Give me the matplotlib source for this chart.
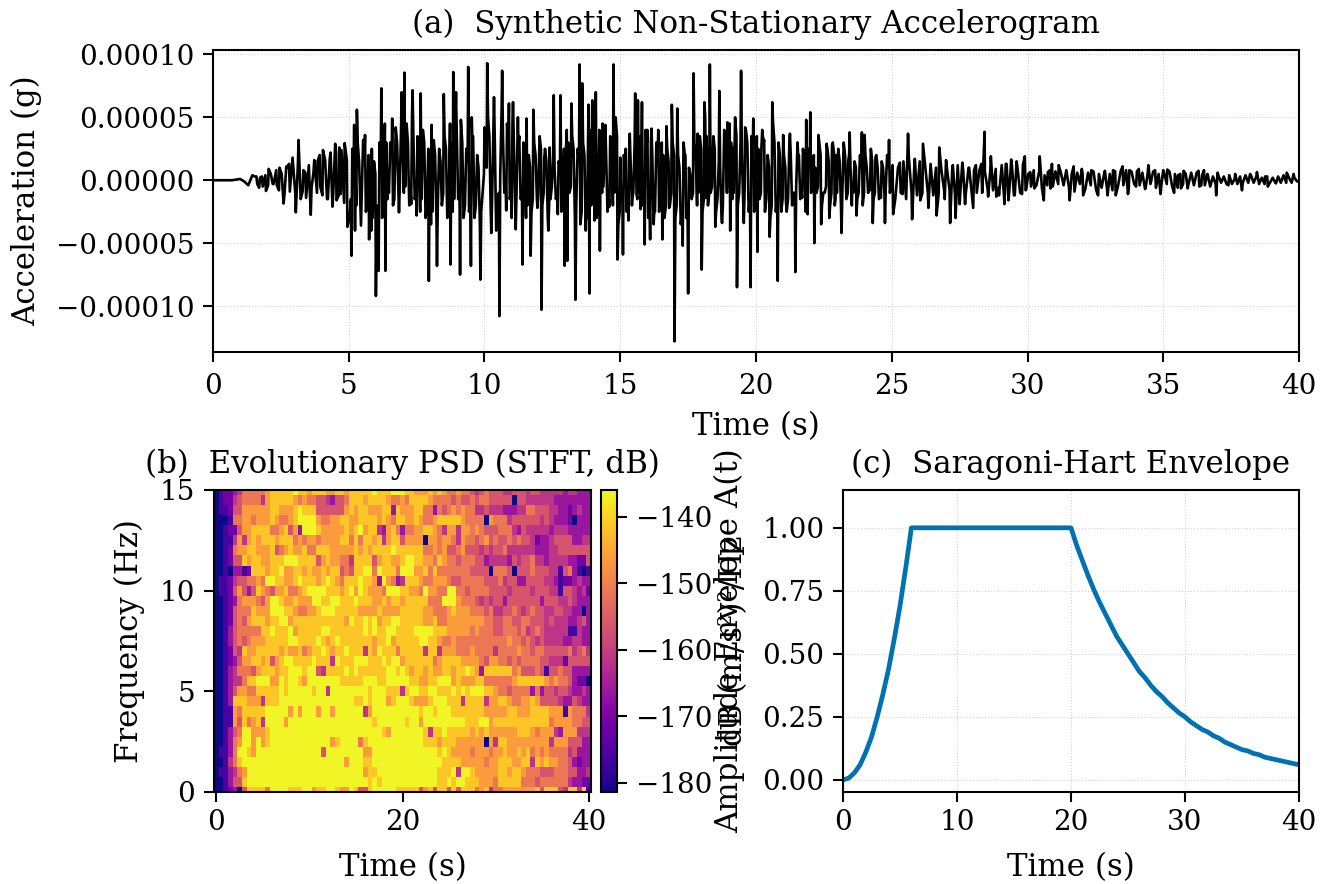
import numpy as np
import matplotlib
matplotlib.use("Agg")
import matplotlib.pyplot as plt

W, H = 1329, 884

# (a) accelerogram: seconds, units of 1e-5 g
acc_time = [0,0.7,0.85,1.0,1.15,1.3,1.45,1.6,1.7,1.8,1.95,2.05,2.2,2.35,2.45,2.6,2.7,2.8,3.05,3.15,3.3,3.4,3.6,3.7,3.85,3.95,4.05,4.2,4.3,4.4,4.5,4.55,4.65,4.7,4.85,4.95,5.1,5.2,5.25,5.3,5.45,5.6,5.75,5.85,6.0,6.1,6.2,6.35,6.45,6.6,6.85,6.95,7.05,7.2,7.3,
7.35,7.5,7.65,7.95,8.05,8.25,8.5,8.75,8.85,8.95,9.1,9.2,9.4,9.5,9.55,9.85,10.0,10.1,10.25,10.35,10.55,10.65,10.8,10.9,11.0,11.05,11.15,11.25,11.4,11.55,11.7,11.8,11.95,12.1,12.2,12.35,12.4,12.55,12.7,12.8,12.95,13.05,13.2,13.35,13.5,13.6,13.75,13.87,13.97,14.05,14.1,14.25,14.35,14.45,14.6,14.75,14.9,15.0,15.1,15.2,15.3,15.35,15.45,15.55,15.6,15.65,15.75,15.8,15.9,16.0,16.1,16.15,16.25,16.4,16.55,16.7,16.8,16.9,17.0,17.1,17.3,17.4,17.5,17.7,17.85,18.0,18.1,18.15,18.3,18.5,18.65,18.75,18.95,19.05,19.15,19.3,19.45,19.55,19.6,19.8,19.9,20.05,20.2,20.3,20.5,20.6,20.8,21.0,21.1,21.25,21.45,21.55,21.7,21.85,21.9,22.0,22.15,22.3,22.4,22.6,22.7,22.8,22.9,22.95,23.15,23.4,23.45,23.55,23.7,23.9,24.0,24.2,24.3,24.4,24.6,24.75,24.9,25.05,25.3,25.4,25.6,25.75,25.85,26.05,26.15,26.35,26.65,26.75,26.95,27.0,27.15,27.25,27.35,27.5,27.6,27.7,27.85,28.0,28.1,28.3,28.42,28.55,28.65,28.85,28.95,29.05,29.15,29.2,29.3,29.4,29.5,29.6,29.8,29.9,29.95,30.1,30.25,30.45,30.6,30.75,30.85,30.9,31.15,31.55,31.7,32.0,32.05,32.35,32.6,32.85,32.95,33.15,33.25,33.5,33.7,33.75,34.0,34.1,34.35,34.45,34.7,34.9,35.0,35.15,35.4,35.55,35.65,35.75,35.9,36.3,36.4,36.5,36.95,37.0,37.4,37.65,37.9,38.2,38.45,38.75,38.85,39.15,39.55,39.8,40.0]
acc_val = [0,0,0.05,0.1,-0.1,-0.4,0.4,0.3,-0.6,0.3,-0.85,0.9,-0.3,-0.4,1.0,-1.85,1.1,1.3,-2.55,3.2,-0.9,0.6,-2.75,0.6,1.5,-0.5,2.4,-1.5,1.7,-2.1,2.9,-1.6,2.6,-1.1,2.95,-3.7,-6.0,4.4,0,5.6,-3.6,3.6,-4.7,2.5,-9.2,-7.2,7.3,-7.2,0,4.9,-2.55,7.0,8.55,0.6,-1.9,
7.15,-2.8,6.9,-8.0,4.4,-6.8,6.85,-6.7,8.6,7.0,-7.5,0.9,9.0,-6.8,3.4,-7.9,4.2,9.3,-4.2,6.6,-10.8,8.7,-2.4,6.1,-3.0,6.2,-3.9,2.9,-6.7,4.9,-6.0,5.6,-2.2,-10.3,1.7,-4.0,2.6,6.75,-2.7,6.75,-6.8,-6.4,6.1,-9.5,9.2,7.7,-2.4,-9.0,6.35,-3.2,7.0,-5.6,4.5,4.4,-2.1,9.2,-6.3,1.8,-5.9,2.5,-3.2,3.7,-1.4,6.9,-1.1,6.35,-2.3,6.2,-5.1,4.0,-4.7,4.1,-2.6,4.0,-4.7,4.3,-2.2,6.0,-12.8,5.7,-5.2,2.0,-9.0,8.5,3.7,-7.1,6.2,-1.4,9.2,-3.7,7.1,-3.4,4.6,-4.0,2.6,-8.5,8.7,-3.4,4.2,-8.5,4.9,-5.7,2.6,3.2,-4.5,6.2,-8.0,3.6,-1.6,3.7,-7.3,2.1,-1.4,4.8,-2.7,5.4,-5.0,3.6,-3.5,2.9,-3.0,2.8,-2.0,2.0,-4.2,1.6,3.8,-0.3,-2.8,3.8,3.6,-0.8,-3.4,1.8,-1.4,-3.4,3.2,-2.7,1.4,-1.1,3.7,-3.1,1.7,-1.6,2.9,-2.2,-2.8,2.6,-1.5,1.6,-3.4,1.2,-3.0,-1.9,1.4,-1.9,1.0,-2.2,1.2,1.3,3.85,-1.3,1.9,-1.3,-1.2,1.2,-1.9,1.3,-1.6,1.65,-1.2,1.5,-1.1,1.9,-0.75,0.65,-0.65,1.9,-1.6,0.65,-0.65,1.3,1.2,-1.6,1.1,0.9,-1.2,0.8,-1.2,0.75,-1.2,0.8,-1.2,1.1,-1.1,0.8,-0.5,0.9,-0.65,1.2,0.8,-1.1,0.8,0.85,-1.0,0.4,-0.65,0.75,-0.65,0.75,-0.4,0.8,-1.2,0.6,-0.4,0.5,-0.8,0.5,0.65,0.3,-0.5,-0.25,0.6,0.5,-0.05]

# smaller oscillations inside the dark band of the trace, one value every 0.1 s
band_early = [.3,-.3,.2,-.5,.4,-.4,.5,-.3,.8,-.8,.5,-1.2,1.0,-.9,1.8,-1,1.4,-1.5,.8,-1.4,1.2,-.6,1.6,-1,2,-1.2,1.6,-1.5,2.2,-1,2.2,-1.2,2.4,-1.8,1.6]
band_strong_1 = [-3,2.5,-4,3,-2,3.2,-2.5,2,-4,1.5,-3.5,3,-3,4.5,-1.5,3,-2,4.2,-1,4.5,-1,4.5,-2,5,-1.5,3.5,-2.5,4,-3,2.5,-3.5,3.2,-3,2.5,-2,3.5,-3,4.5,-2.5,5,-1.5,4.8,-3,2.5,-2.5,5,-3,2,-3.5,-1,2,5,-2.5,4,-4,-1,5.5,-1,4.5,-1.5,4.5,-2,5,-1.5,3,-3,2,-2.5,3,-1.5,3.5,-2,2.5,-3,-1.5,2,-1.5,1.5,-2.5,2.5,4,-1,3.5,-3,2.5,-3.5,3,-4,6,-2,4.5,-3,4,-1,3,-2.5,3.5,-2,5,-3.5]
band_strong_2 = [-1.5,2,-2.5,2.5,-2,3,-1.5,3.5,-2,4,-3,3,-3.5,3,-2.5,3,-3,2.5,-2,3,-3,2,-3.5,3,-3,1,-1.5,3,-2,3.5,-2.5,5,-2,-1,3.5,-2.5,1.5,-3,4,-1,4.5,-1.5,5,-2,3,-2,4,-2.5,3.5,-2.5,3.5,-1.5,4,-2.5,2,-3,4.5,-2.5,3,-2.5,2,-2.5,3,-2,-1,3,-1.5,2.5,-2.5,2.5,-1,2,-1,3,-2,-1,2.5,-2,3,-1.5,2.5,-2,3,-1.5,2,-2,1.5,-1.5,2,-2,2,-1,2.5,-1.5,2,-1.5,1.5,-1,2,-1]
band_decay_1 = [1.2,-1.5,1,-1,1.5,-1.5,1.8,-1,1,-1.2,1.5,-1,1.2,-1,1.3,-1.2,1,-1,.8,-.8,1,-.8,1,-1.2,1.2,-.8,.8,-1,1,-.7,.8,-1,.8,-1,.7,-.7,.8,-.8,.9,-.6,.8,-1.1,1.3,-.8,1.1,-1.2,1.0,-1,1.2,-.8]
band_decay_2 = [.5,-.5,.8,-.4,.7,-.6,.4,-.4,.8,-.5,.7,-.3,.6,-.4,.8,-.6,.5,-.9,.6,-.3,.5,-.7,.6,-.4,.7,-.8,.5,-.6,.6,-.7,.5,-.8,.7,-.5,.7,-.4,.8,-.7,.7,-.3,.7,-.4,.6,-.7,.6,-.3,.7,-.6,.5,-.4,.6,-.3,.7,-.5,.5,-.6,.5,-.3,.5,-.3,.6,-.4,.6,-.5,.4,-.4,.5,-.5,.3,-.3,.4,-.2,.3,-.3,.4,-.3,.1,-.3,.3,-.2,.4,-.2,.4,-.2,.3,-.3,.2,-.3,.3,-.2,.2,-.2,.3,-.2,.4,-.2,.2,-.2,.2,-.1]
band_core = [-1.5,1,-2,1.5,-1,2.2,-2,1,-3,.5,-2,2,-1,3,-1,2,-1.5,3,-.5,3,-.5,3,-1,3.5,-1,2.5,-1.5,3,-2,1.5,-2.5,2,-2,1.5,-1,2.5,-2,3,-1.5,3.5,-1,3,-2,1.5,-1.5,3.5,-2,1,-2.5,.5,1,3.5,-1.5,3,-3,.5,3.5,-.5,3,-1,3,-1,3.5,-1,2,-2,1,-1.5,2,-1,2.5,-1,1.5,-2,-.5,1,-1,1,-1.5,1.5,3,-.5,2.5,-2,1.5,-2.5,2,-3,4,-1,3,-2,3,-.5,2,-1.5,2.5,-1,3.5,-2.5,-1,1.5,-1.5,1.5,-1,2,-1,2.5,-1,3,-2,2,-2.5,2,-1.5,2,-2,1.5,-1,2,-2,1,-2.5,2,-2,.5,-1,2,-1,2.5,-1.5,3.5,-1,-.5,2.5,-1.5,1,-2,3,-.5,3,-1,3.5,-1,2,-1,3,-1.5,2.5,-1.5,2.5,-1,3,-1.5,1,-2,3,-1.5,2,-1.5,1,-1.5,2,-1,-.5,2,-1,1.5,-1.5,1.5,-.5,1,-.5,2,-1,-.5,1.5,-1,2,-1,1.5,-1,2,-1,1,-1,1,-1,1,-1,1,-.5,1.5,-1,1,-1,1,-.5,1,-.5]
band_starts = [1.53, 5.03, 15.03, 25.03, 30.03, 5.08]

# (b) STFT levels, one character per cell, top row = 15 Hz
psd_rows = [
"0122346666 6788888988 7888778878 8888988899 9887778787 6676654565 5544555455 4444434433 3",
"0122456666 4788888767 6655435568 8878888766 7688887666 6565565665 5555055444 4443333333 3",
"0112557777 7788777898 8855555578 7887778838 7778866365 6767664454 4433344665 5544332343 3",
"0001667767 7787667899 9976677887 7888878768 8778766788 8887666607 6664555555 4543332033 3",
"0012257788 8866785739 9987777787 8978843786 3667788764 7747767655 5666435444 4434443333 3",
"0011474787 8887888676 7767777886 8688784788 5777707767 7647665675 6556565542 3345555334 4",
"0012677887 7785678778 6688877777 8787888898 8888866767 5567555454 5564444443 3344555555 5",
"0012558788 7788899988 8857877664 8888578877 8998877687 6656665534 4443545564 4344443322 5",
"0010331288 8788977887 8778788565 8899698886 9997786866 6666655550 6665055565 5544156310 1",
"0112455667 6998877898 8878987688 8988739763 4888766777 6556666655 5645533555 5443122343 3",
"0112575358 7657786678 9999888789 7987776999 8877697766 9966566665 5554555545 5544155434 2",
"0012367776 5799877877 7998899888 9888778788 7888886669 9976665454 5535555555 3555445433 3",
"0012566687 7799988766 7789998888 8777787777 8888877666 7877766656 4455654565 5445544330 3",
"0012565788 8788997888 8888888879 8898978899 8888877866 7777777766 5566556655 5454443345 3",
"0013566666 8898889788 8889988888 8898988998 8889999888 7777767666 5566656456 5444441143 3",
"0013565677 7888889988 8898789888 8888788978 8888998876 6766666666 6667665654 5444433443 3",
"0012548778 8888787786 7889878898 8848798886 8888848847 7766676666 4666676656 6555556456 4",
"0012357788 7857899888 8988849888 9998889899 7888888678 8887777657 7665656666 5544425555 5",
"0013466657 8887889998 9954888898 9888888998 9878878778 8788987388 8888675556 5155655333 3",
"0013446889 9977989987 9999999888 8899988999 9988778899 9787778866 6666788888 8767665322 0",
"0013577668 8888989999 9899499999 9998999888 4899889988 8989899988 7665666636 3554554334 3",
"0013888777 4888999999 9999999999 8898999789 9987778999 8884888847 7887667787 5555433543 3",
"0011768888 8999997979 9979979999 9947999999 9999899899 9888888877 7778877788 8877717666 4",
"0011758678 4999979999 9999999999 9999899999 9899799999 9999888997 8888888888 8867777665 5",
"0013569977 7899999999 9999999999 9999998799 9999984889 8888878787 7777788876 7774377744 4",
"0013679979 7899999999 9999978999 9689999999 9999988878 8877777707 4887777777 7747775553 3",
"0113699879 9999999999 9995999999 9977999999 9999999989 8777767776 7787787867 6766664533 3",
"0014689999 9999999999 9999999979 9988999999 9999999998 8887777767 7888778848 7877665323 3",
"0113467999 9999999999 9999999999 9978899999 9999999988 8949987777 7887887666 5556665533 4",
"0013558999 9999999999 9999999999 9998989999 9999999988 9899888777 6888886665 6666664332 2",
"0012305888 8699998889 9788998779 8558999998 8888578588 5858886784 6677777778 5888548848 1",
]
psd_floor_db = -181.4
psd_step_db = 5.0
cbar_ticks = [-180, -170, -160, -150, -140]

# (c) envelope
env_rise = [0,.007,.028,.06,.11,.17,.25,.34,.44,.56,.69,.84,1]
env_decay = [1,.93,.87,.81,.755,.705,.66,.615,.57,.535,.5,.465,.43,.405,.375,.35,.33,.305,.285,.265,.25,.23,.215,.2,.19,.175,.165,.15,.14,.13,.12,.115,.105,.1,.09,.085,.08,.075,.07,.065,.06]
env_step_s = 0.5
env_flat_end_s = 20

TICK = 20
LABEL = 22.2
plt.rcParams.update({
    "font.family": "DejaVu Serif", "font.size": TICK,
    "axes.linewidth": 1.5, "xtick.major.width": 1.5, "ytick.major.width": 1.5,
    "xtick.major.size": 7, "ytick.major.size": 7,
    "xtick.major.pad": 5, "ytick.major.pad": 6.5,
    "axes.labelsize": LABEL, "axes.titlesize": LABEL,
})

fig = plt.figure(figsize=(W / 100, H / 100), dpi=100)

def axes_px(x0, y0, x1, y1):
    return fig.add_axes([x0 / W, 1 - y1 / H, (x1 - x0) / W, (y1 - y0) / H])

def gridded(ax):
    ax.grid(True, linestyle=":", linewidth=0.8, color="#d4d4d4")
    ax.set_axisbelow(True)

# (a)
ax_a = axes_px(213, 50, 1299, 352)
gridded(ax_a)
band_t, band_v = [], []
for start, seg in zip(band_starts, [band_early, band_strong_1, band_strong_2, band_decay_1, band_decay_2, band_core]):
    band_t.extend(start + 0.1 * np.arange(len(seg)))
    band_v.extend(seg)
all_t = np.concatenate([acc_time, band_t])
all_v = np.concatenate([acc_val, band_v])
order = np.argsort(all_t)
ax_a.plot(all_t[order], all_v[order] * 1e-5, color="black", lw=1.9)
ax_a.set_xlim(0, 40)
ax_a.set_ylim(-1.365e-4, 1.035e-4)
ax_a.set_yticks([-1e-4, -5e-5, 0, 5e-5, 1e-4])
ax_a.set_yticklabels(["\u22120.00010", "\u22120.00005", "0.00000", "0.00005", "0.00010"])
ax_a.tick_params(axis="x", pad=8)
ax_a.set_xlabel("Time (s)", labelpad=8)
ax_a.set_ylabel("Acceleration (g)")
ax_a.yaxis.set_label_coords((42 - 213) / 1086, 0.5)
ax_a.set_title("(a)  Synthetic Non-Stationary Accelerogram", pad=12)

# (b)
ax_b = axes_px(214, 490, 591, 792)
cells = [list(r.replace(" ", "")) for r in psd_rows]
grid = psd_floor_db + psd_step_db * np.array(cells, dtype=float)
freqs = np.arange(grid.shape[0])[::-1] * 0.5
times = np.arange(grid.shape[1]) * 0.5
mesh = ax_b.pcolormesh(times, freqs, grid, cmap="plasma", shading="nearest",
                       vmin=psd_floor_db, vmax=-136)
ax_b.set_ylim(0, 15)
ax_b.set_yticks([0, 5, 10, 15])
ax_b.set_xticks([0, 20, 40])
ax_b.set_xlabel("Time (s)", labelpad=12)
ax_b.set_ylabel("Frequency (Hz)")
ax_b.yaxis.set_label_coords((145 - 214) / 377, 0.5)
ax_b.set_title("(b)  Evolutionary PSD (STFT, dB)", pad=12)

cax = axes_px(601, 490, 617, 792)
cb = fig.colorbar(mesh, cax=cax)
cb.set_ticks(cbar_ticks)
cb.set_label("dB (m/s\u00b2)\u00b2/Hz")
cax.yaxis.set_label_coords((718 - 601) / 16, 0.5)

# (c)
ax_c = axes_px(843, 490, 1299, 792)
gridded(ax_c)
rise_t = env_step_s * np.arange(len(env_rise))
decay_t = env_flat_end_s + env_step_s * np.arange(len(env_decay))
ax_c.plot(np.concatenate([rise_t, decay_t]), np.concatenate([env_rise, env_decay]),
          color="#0072B2", lw=3.4)
ax_c.set_xlim(0, 40)
ax_c.set_ylim(-0.048, 1.15)
ax_c.set_yticks([0, 0.25, 0.5, 0.75, 1.0])
ax_c.set_yticklabels(["0.00", "0.25", "0.50", "0.75", "1.00"])
ax_c.set_xlabel("Time (s)", labelpad=12)
ax_c.set_ylabel("Amplitude Envelope A(t)")
ax_c.yaxis.set_label_coords((745 - 843) / 456, 0.5)
ax_c.set_title("(c)  Saragoni-Hart Envelope", pad=12)

fig.savefig("out.png", dpi=100)
